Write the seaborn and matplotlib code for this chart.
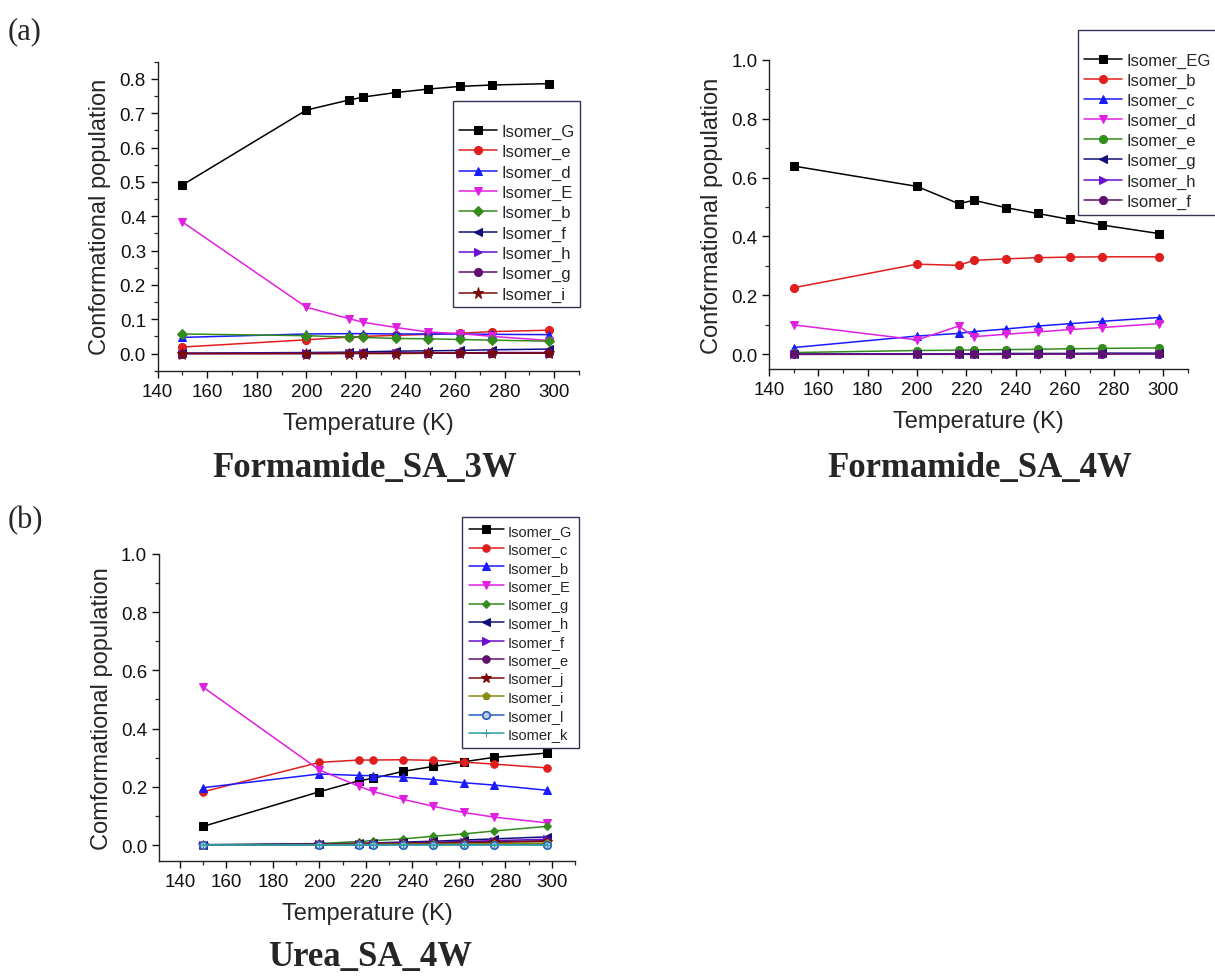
import matplotlib
matplotlib.use("Agg")
import matplotlib.pyplot as plt
import seaborn as sns
from matplotlib.ticker import MultipleLocator

# ---------------- data ----------------
temps = [150, 200, 217, 223, 236, 249, 262, 275, 298]

# (a) Formamide_SA_3W
fa3_names = ["Isomer_G", "Isomer_e", "Isomer_d", "Isomer_E", "Isomer_b",
             "Isomer_f", "Isomer_h", "Isomer_g", "Isomer_i"]
fa3_G = [0.491, 0.709, 0.738, 0.747, 0.760, 0.770, 0.778, 0.782, 0.786]
fa3_e = [0.019, 0.040, 0.048, 0.050, 0.053, 0.056, 0.059, 0.064, 0.068]
fa3_d = [0.047, 0.057, 0.058, 0.058, 0.057, 0.057, 0.057, 0.056, 0.055]
fa3_E = [0.383, 0.135, 0.102, 0.091, 0.076, 0.063, 0.058, 0.050, 0.038]
fa3_b = [0.057, 0.052, 0.048, 0.047, 0.044, 0.043, 0.041, 0.039, 0.036]
fa3_f = [0.001, 0.003, 0.004, 0.005, 0.007, 0.008, 0.009, 0.011, 0.013]
fa3_h = [0.000, 0.001, 0.001, 0.001, 0.002, 0.002, 0.002, 0.003, 0.003]
fa3_g = [0.000, 0.000, 0.001, 0.001, 0.001, 0.001, 0.001, 0.001, 0.002]
fa3_i = [0.000, 0.000, 0.000, 0.000, 0.000, 0.001, 0.001, 0.001, 0.001]

# (a) Formamide_SA_4W
fa4_names = ["Isomer_EG", "Isomer_b", "Isomer_c", "Isomer_d", "Isomer_e",
             "Isomer_g", "Isomer_h", "Isomer_f"]
fa4_EG = [0.639, 0.570, 0.511, 0.523, 0.498, 0.478, 0.458, 0.439, 0.410]
fa4_b = [0.226, 0.306, 0.302, 0.319, 0.324, 0.328, 0.330, 0.331, 0.331]
fa4_c = [0.023, 0.062, 0.071, 0.077, 0.086, 0.096, 0.104, 0.112, 0.125]
fa4_d = [0.100, 0.049, 0.096, 0.060, 0.068, 0.076, 0.084, 0.091, 0.104]
fa4_e = [0.006, 0.013, 0.014, 0.015, 0.016, 0.017, 0.019, 0.020, 0.022]
fa4_g = [0.001, 0.002, 0.002, 0.002, 0.003, 0.003, 0.003, 0.004, 0.004]
fa4_h = [0.000, 0.001, 0.001, 0.001, 0.001, 0.001, 0.002, 0.002, 0.002]
fa4_f = [0.000, 0.000, 0.000, 0.000, 0.000, 0.001, 0.001, 0.001, 0.001]

# (b) Urea_SA_4W
ur_names = ["Isomer_G", "Isomer_c", "Isomer_b", "Isomer_E", "Isomer_g", "Isomer_h",
            "Isomer_f", "Isomer_e", "Isomer_j", "Isomer_i", "Isomer_l", "Isomer_k"]
ur_G = [0.064, 0.183, 0.221, 0.229, 0.253, 0.270, 0.286, 0.301, 0.316]
ur_c = [0.183, 0.284, 0.292, 0.292, 0.293, 0.291, 0.285, 0.278, 0.265]
ur_b = [0.197, 0.244, 0.239, 0.238, 0.233, 0.225, 0.214, 0.206, 0.188]
ur_E = [0.542, 0.258, 0.202, 0.184, 0.157, 0.133, 0.112, 0.096, 0.076]
ur_g = [0.001, 0.005, 0.012, 0.015, 0.021, 0.030, 0.038, 0.048, 0.064]
ur_h = [0.000, 0.003, 0.006, 0.007, 0.010, 0.013, 0.017, 0.021, 0.028]
ur_f = [0.000, 0.002, 0.004, 0.005, 0.007, 0.009, 0.012, 0.015, 0.020]
ur_e = [0.001, 0.003, 0.005, 0.005, 0.007, 0.008, 0.010, 0.012, 0.015]
ur_j = [0.000, 0.002, 0.003, 0.004, 0.005, 0.006, 0.007, 0.009, 0.012]
ur_i = [0.000, 0.001, 0.002, 0.002, 0.003, 0.003, 0.004, 0.005, 0.006]
ur_l = [0.000, 0.000, 0.000, 0.000, 0.001, 0.001, 0.001, 0.001, 0.001]
ur_k = [0.000, 0.000, 0.000, 0.000, 0.000, 0.000, 0.000, 0.000, 0.000]

# ---------------- styles ----------------
C_BLACK, C_RED, C_BLUE, C_MAG = "#000000", "#e01e1e", "#1a1aff", "#e020e0"
C_GREEN, C_NAVY, C_VIOLET, C_PURPLE = "#338c1c", "#10107a", "#6a10d0", "#60106e"
C_WINE, C_OLIVE, C_ROYAL, C_TEAL = "#7a0a0a", "#8a8a10", "#2a5cc0", "#30a0a0"

fa3_styles = [(C_BLACK, "s"), (C_RED, "o"), (C_BLUE, "^"), (C_MAG, "v"),
              (C_GREEN, "D"), (C_NAVY, "<"), (C_VIOLET, ">"), (C_PURPLE, "o"),
              (C_WINE, "*")]
fa4_styles = [(C_BLACK, "s"), (C_RED, "o"), (C_BLUE, "^"), (C_MAG, "v"),
              (C_GREEN, "o"), (C_NAVY, "<"), (C_VIOLET, ">"), (C_PURPLE, "o")]
ur_styles = [(C_BLACK, "s"), (C_RED, "o"), (C_BLUE, "^"), (C_MAG, "v"),
             (C_GREEN, "D"), (C_NAVY, "<"), (C_VIOLET, ">"), (C_PURPLE, "o"),
             (C_WINE, "*"), (C_OLIVE, "p"), (C_ROYAL, "o"), (C_TEAL, "+")]

sns.set_theme(style="ticks")
plt.rcParams["font.family"] = ["Liberation Sans", "DejaVu Sans"]
plt.rcParams["axes.linewidth"] = 1.0
plt.rcParams["axes.edgecolor"] = "#222222"

fig = plt.figure(figsize=(12.15, 9.79), dpi=100)

def draw(ax, series, names, styles, xlim, ylim, ymaj, ymin, ylabel, ms=5.8):
    for vals, name, (c, m) in zip(series, names, styles):
        msz = ms * (0.8 if m == "D" else (1.4 if m == "*" else 1.0))
        kw = dict(markeredgecolor=c, markerfacecolor=c)
        if name == "Isomer_l":
            kw = dict(markeredgecolor=c, markerfacecolor="#b8cff0", markeredgewidth=1.2)
        sns.lineplot(x=temps, y=vals, ax=ax, color=c, marker=m, markersize=msz,
                     linewidth=1.1, label=name, errorbar=None, **kw)
    ax.set_xlim(*xlim)
    ax.set_ylim(*ylim)
    ax.xaxis.set_major_locator(MultipleLocator(20))
    ax.xaxis.set_minor_locator(MultipleLocator(10))
    ax.yaxis.set_major_locator(MultipleLocator(ymaj))
    ax.yaxis.set_minor_locator(MultipleLocator(ymin))
    ax.set_yticks([t for t in ax.get_yticks() if t >= -1e-9 and t <= ylim[1] + 1e-9])
    ax.yaxis.set_major_formatter(matplotlib.ticker.FormatStrFormatter("%.1f"))
    ax.set_xticks(list(range(140, 301, 20)))
    ax.tick_params(axis="both", which="major", direction="out", length=5, width=1.0,
                   labelsize=13.5, colors="#111111")
    ax.tick_params(axis="both", which="minor", direction="out", length=2.8, width=0.9)
    ax.set_xlabel("Temperature (K)", fontsize=17, labelpad=9)
    ax.set_ylabel(ylabel, fontsize=17, labelpad=6)
    sns.despine(ax=ax)

legend_common = dict(loc="upper left", bbox_transform=fig.transFigure,
                     borderaxespad=0, frameon=True, fancybox=False,
                     edgecolor="#333355", framealpha=1)

# panel 1
ax1 = fig.add_axes([0.1298, 0.6203, 0.3467, 0.3157])
draw(ax1, [fa3_G, fa3_e, fa3_d, fa3_E, fa3_b, fa3_f, fa3_h, fa3_g, fa3_i],
     fa3_names, fa3_styles, (140, 310), (-0.05, 0.85), 0.1, 0.05,
     "Conformational population")
ax1.legend(bbox_to_anchor=(0.3728, 0.8958), fontsize=12, title=" ",
           title_fontsize=9, handlelength=2.3, handletextpad=0.25,
           labelspacing=0.31, borderpad=0.35, **legend_common)

# panel 2
ax2 = fig.add_axes([0.633, 0.622, 0.3449, 0.316])
draw(ax2, [fa4_EG, fa4_b, fa4_c, fa4_d, fa4_e, fa4_g, fa4_h, fa4_f],
     fa4_names, fa4_styles, (140, 310), (-0.05, 1.0), 0.2, 0.1,
     "Conformational population")
ax2.legend(bbox_to_anchor=(0.8872, 0.9686), fontsize=12, title=" ",
           title_fontsize=9, handlelength=2.3, handletextpad=0.25,
           labelspacing=0.3, borderpad=0.35, **legend_common)

# panel 3
ax3 = fig.add_axes([0.1309, 0.1195, 0.3424, 0.3136])
draw(ax3, [ur_G, ur_c, ur_b, ur_E, ur_g, ur_h, ur_f, ur_e, ur_j, ur_i, ur_l, ur_k],
     ur_names, ur_styles, (131, 310), (-0.055, 1.0), 0.2, 0.1,
     "Comformational population", ms=5.4)
ax3.legend(bbox_to_anchor=(0.3802, 0.4709), fontsize=10.5, handlelength=2.4,
           handletextpad=0.3, labelspacing=0.31, borderpad=0.45, **legend_common)

# titles and panel letters
serif = ["Liberation Serif", "DejaVu Serif"]
fig.text(0.300, 0.521, "Formamide_SA_3W", ha="center", va="center",
         fontsize=25, fontweight="bold", family=serif)
fig.text(0.806, 0.521, "Formamide_SA_4W", ha="center", va="center",
         fontsize=25, fontweight="bold", family=serif)
fig.text(0.305, 0.022, "Urea_SA_4W", ha="center", va="center",
         fontsize=25, fontweight="bold", family=serif)
fig.text(0.006, 0.968, "(a)", ha="left", va="center", fontsize=22, family=serif)
fig.text(0.006, 0.468, "(b)", ha="left", va="center", fontsize=22, family=serif)

fig.savefig("out.png", dpi=100)
